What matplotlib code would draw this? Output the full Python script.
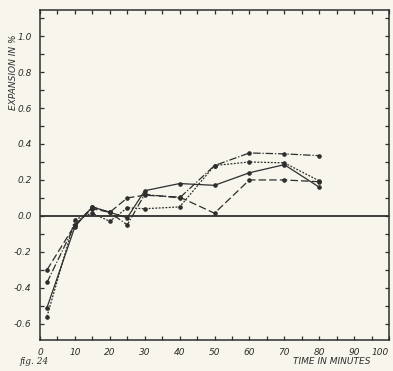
import matplotlib.pyplot as plt
import numpy as np

# time in minutes
t = [2, 10, 15, 20, 25, 30, 40, 50, 60, 70, 80]

# expansion in % for the four specimens
dash_dot = [-0.37, -0.05, 0.05, 0.02, -0.05, 0.12, 0.10, 0.28, 0.35, 0.345, 0.335]
dotted = [-0.56, -0.02, 0.015, -0.03, 0.045, 0.04, 0.05, 0.28, 0.30, 0.295, 0.195]
solid = [-0.51, -0.06, 0.05, 0.02, -0.01, 0.14, 0.18, 0.17, 0.24, 0.285, 0.16]
dashed = [-0.30, -0.05, 0.04, 0.02, 0.10, 0.115, 0.105, 0.015, 0.20, 0.20, 0.19]

x_ticks = [0, 10, 20, 30, 40, 50, 60, 70, 80, 90, 100]
y_ticks = [-0.6, -0.4, -0.2, 0.0, 0.2, 0.4, 0.6, 0.8, 1.0]

bg = '#f7f5ec'
ink = '#2e2e2e'

fig = plt.figure(figsize=(3.93, 3.71), dpi=100, facecolor=bg)
ax = fig.add_axes([40/393, 1-340/371, 349/393, 330/371], facecolor=bg)

# zero line
ax.axhline(0, color=ink, lw=1.3, zorder=1)

styles = [
    (dash_dot, (0, (6, 1.5, 1, 1.5))),
    (dotted, (0, (1.5, 1.2))),
    (solid, '-'),
    (dashed, (0, (6, 2.5))),
]
for vals, ls in styles:
    ax.plot(t, vals, color=ink, lw=0.9, ls=ls, marker='o', ms=2.3,
            markerfacecolor=ink, markeredgecolor=ink, zorder=2)

ax.set_xlim(0, 100)
ax.set_ylim(-0.69, 1.145)
ax.set_xticks(x_ticks)
ax.set_xticks(np.arange(5, 100, 10), minor=True)
ax.set_yticks(y_ticks)
ax.set_yticks(np.arange(-0.5, 1.15, 0.2), minor=True)
xl = ax.set_xticklabels([str(v) for v in x_ticks], fontstyle='italic', fontsize=6.5, color=ink)
xl[-1].set_horizontalalignment('right')
ax.set_yticklabels(['%.1f' % v if v != 0 else '0.0' for v in y_ticks],
                   fontstyle='italic', fontsize=6.5, color=ink)

ax.tick_params(which='both', direction='in', top=True, right=True,
               length=3, width=0.9, color=ink, pad=6)
for s in ax.spines.values():
    s.set_color(ink)
    s.set_linewidth(1.1)

fig.text(14/393, 1-72/371, 'EXPANSION IN %', rotation=90, ha='center', va='center',
         fontstyle='italic', fontsize=6.5, color=ink)
fig.text(332/393, 1-362/371, 'TIME IN MINUTES', ha='center', va='center',
         fontstyle='italic', fontsize=6.5, color=ink)
fig.text(20/393, 1-362/371, 'fig. 24', ha='left', va='center',
         fontstyle='italic', family='DejaVu Serif', fontsize=6.5, color=ink)

fig.savefig('out.png', dpi=100, facecolor=bg)
